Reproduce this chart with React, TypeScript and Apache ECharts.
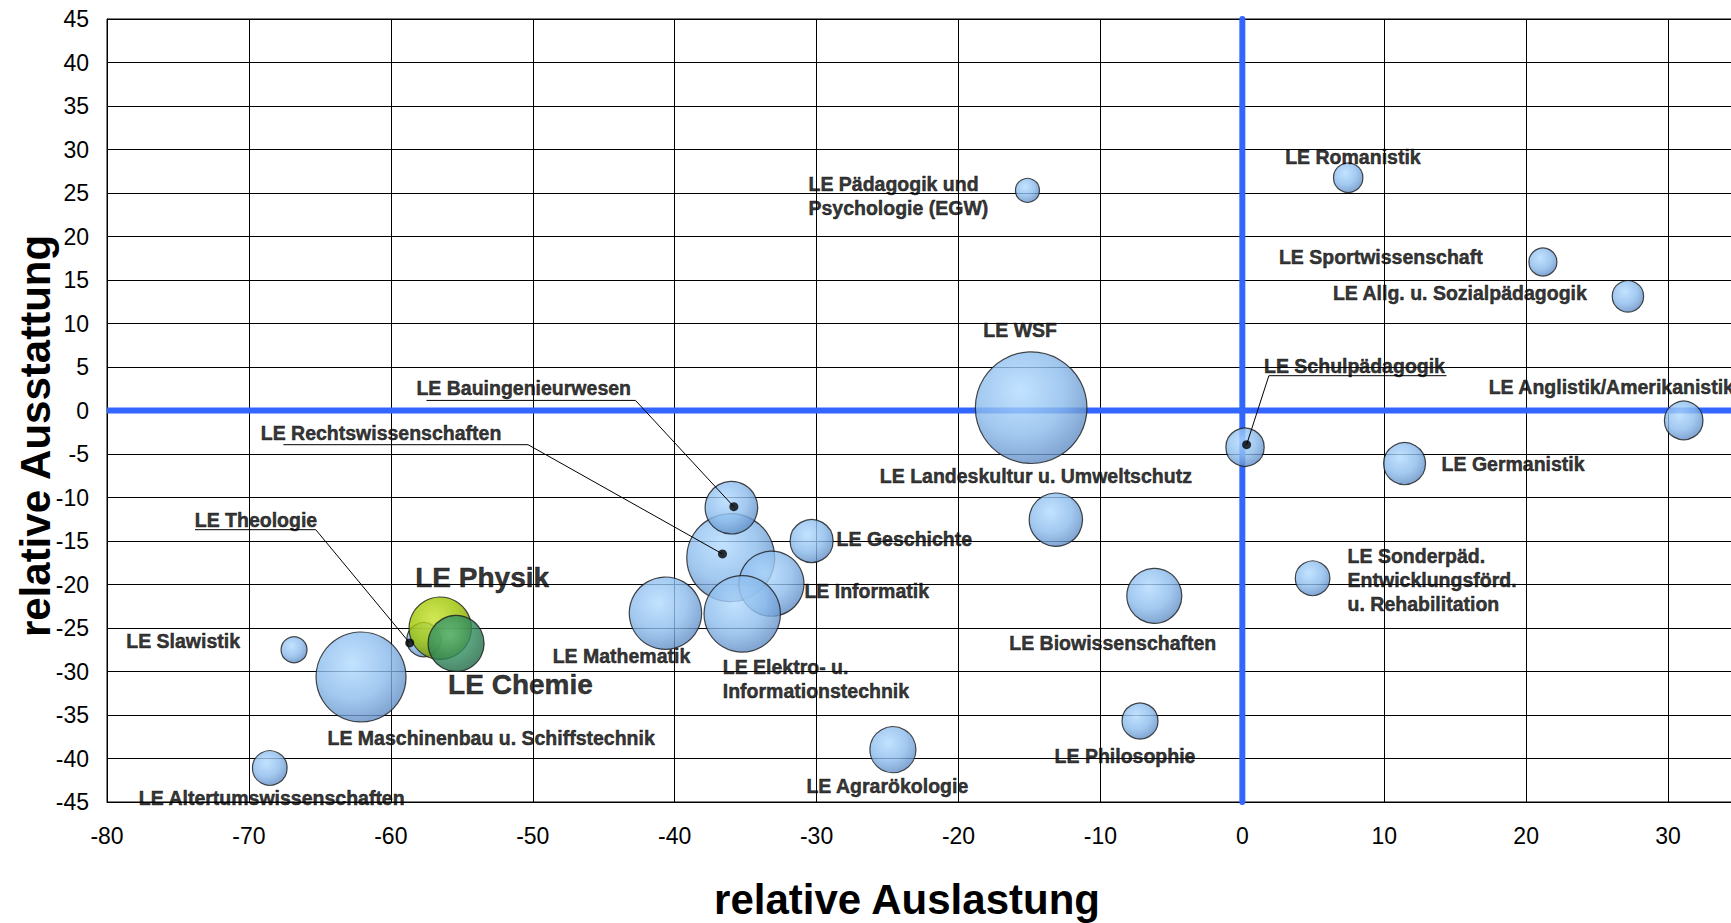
import React, { useEffect, useRef } from "react";
import * as echarts from "echarts";

// ---- data ----
const names = [
  "LE Romanistik",
  "LE Sportwissenschaft",
  "LE Allg. u. Sozialpädagogik",
  "LE Anglistik/Amerikanistik",
  "LE Germanistik",
  "LE Pädagogik und\nPsychologie (EGW)",
  "LE WSF",
  "LE Landeskultur u. Umweltschutz",
  "LE Schulpädagogik",
  "LE Geschichte",
  "LE Rechtswissenschaften",
  "LE Bauingenieurwesen",
  "LE Informatik",
  "LE Elektro- u.\nInformationstechnik",
  "LE Mathematik",
  "LE Biowissenschaften",
  "LE Philosophie",
  "LE Agrarökologie",
  "LE Sonderpäd.\nEntwicklungsförd.\nu. Rehabilitation",
  "LE Theologie",
  "LE Slawistik",
  "LE Maschinenbau u. Schiffstechnik",
  "LE Altertumswissenschaften",
  "LE Physik",
  "LE Chemie",
];
const relAuslastung = [
  7.46, 21.18, 27.17, 31.1, 11.43, -15.14, -14.88, -13.14, 0.19, -30.35, -36.05,
  -36.0, -33.18, -35.24, -40.65, -6.2, -7.21, -24.62, 4.95, -57.68, -66.82, -62.1,
  -68.53, -56.52, -55.4,
];
const relAusstattung = [
  26.76, 17.07, 13.12, -1.14, -6.1, 25.3, 0.32, -12.55, -4.22, -15.0, -16.92,
  -11.17, -19.91, -23.38, -23.3, -21.3, -35.69, -38.99, -19.28, -26.34, -27.49,
  -30.63, -41.09, -25.02, -26.77,
];
const bubbleSize = [
  8.64, 7.84, 9.86, 14.9, 17.6, 5.76, 124.5, 28.5, 14.7, 18.5, 77.4, 27.7, 42.3,
  58.4, 52.4, 30.3, 13.0, 21.2, 12.0, 11.6, 6.76, 81, 12.0, 38.9, 31.4,
];
const highlighted = ["LE Physik", "LE Chemie"];

const xMin = -80, xMax = 40, xStep = 10;
const yMin = -45, yMax = 45, yStep = 5;
const xTitle = "relative Auslastung";
const yTitle = "relative Ausstattung";

// leader lines (label connectors) in data units
const leaderBau = [[-35.83, -11.06], [-42.76, 1.16], [-57.49, 1.16]];
const leaderRecht = [[-36.63, -16.49], [-50.33, -3.93], [-67.57, -3.93]];
const leaderTheo = [[-58.67, -26.72], [-65.29, -13.7], [-73.8, -13.7]];
const leaderSchul = [[0.3, -3.93], [1.87, 4.0], [14.39, 4.0]];

// ---- label layout (styling) : align, dx, dy, fontSize ----
const labelLayout: [string, number, number, number?][] = [
  ["left", -63, -21],
  ["left", -264, -5],
  ["left", -295, -3],
  ["left", -195, -33],
  ["left", 37, 0],
  ["left", -219, 6],
  ["center", -11, -78],
  ["center", -20, -44],
  ["left", 19, -81.5],
  ["left", 25, -2],
  ["left", -470, -125],
  ["left", -315, -120],
  ["left", 33, 7],
  ["left", -19.5, 65],
  ["center", -44, 43],
  ["center", -41.6, 47],
  ["center", -15, 35],
  ["center", -5.6, 36],
  ["left", 35, 1.5],
  ["left", -229, -120],
  ["right", -54, -9],
  ["left", -33.5, 61],
  ["left", -131, 30],
  ["left", -25, -51, 28],
  ["left", -8, 41, 28],
];

const FONT = '"Liberation Sans", Arial, Helvetica, sans-serif';

function grad(c0: string, c1: string, c2: string) {
  return new echarts.graphic.RadialGradient(0.4, 0.35, 0.72, [
    { offset: 0, color: c0 },
    { offset: 0.55, color: c1 },
    { offset: 1, color: c2 },
  ]);
}

export default function App() {
  const ref = useRef<HTMLDivElement>(null);
  useEffect(() => {
    if (!ref.current) return;
    const chart = echarts.init(ref.current, undefined, { renderer: "svg" });

    const blueStyle = { color: grad("#b3dbff", "#8bbbec", "#5985bd"), borderColor: "#1a1a1a", borderWidth: 1.2 };
    const physikStyle = { color: grad("#c6e22a", "#9cc300", "#6f8c00"), borderColor: "#1a1a1a", borderWidth: 1.2 };
    const chemieStyle = { color: grad("#52b083", "#2f8a5c", "#1b6240"), borderColor: "#1a1a1a", borderWidth: 1.2 };

    const makeItem = (i: number) => {
      const [align, dx, dy, fs] = labelLayout[i];
      return {
        name: names[i],
        value: [relAuslastung[i], relAusstattung[i], bubbleSize[i]],
        label: {
          show: true,
          position: "inside",
          align,
          verticalAlign: "middle",
          offset: [dx, dy],
          formatter: names[i],
          fontSize: fs || 19.5,
          lineHeight: fs ? fs * 1.2 : 24,
          fontWeight: "bold",
          fontFamily: FONT,
          color: "#000",
          textBorderWidth: 0.5,
          textBorderColor: "#000",
          textShadowBlur: 0,
        },
      };
    };

    const blueItems = names.map((n, i) => i).filter((i) => !highlighted.includes(names[i])).map(makeItem);
    const physik = [makeItem(names.indexOf("LE Physik"))];
    const chemie = [makeItem(names.indexOf("LE Chemie"))];

    const sizeFn = (v: number[]) => 10 * Math.sqrt(v[2]);

    const leaders = [leaderBau, leaderRecht, leaderTheo, leaderSchul];

    const option: any = {
      animation: false,
      backgroundColor: "#fff",
      grid: {
        left: 107,
        top: 19,
        width: 1703,
        height: 783,
        show: true,
        borderColor: "#000",
        borderWidth: 1,
        containLabel: false,
        outerBoundsMode: "none",
      },
      xAxis: {
        type: "value",
        min: xMin,
        max: xMax,
        interval: xStep,
        axisLine: { onZero: false, lineStyle: { color: "#000", width: 1 } },
        axisTick: { show: false },
        splitLine: { show: true, lineStyle: { color: "#000", width: 1 } },
        axisLabel: { fontSize: 23, color: "#000", fontFamily: FONT, margin: 22, showMaxLabel: false },
      },
      yAxis: {
        type: "value",
        min: yMin,
        max: yMax,
        interval: yStep,
        axisLine: { onZero: false, lineStyle: { color: "#000", width: 1 } },
        axisTick: { show: false },
        splitLine: { show: true, lineStyle: { color: "#000", width: 1 } },
        axisLabel: { fontSize: 23, color: "#000", fontFamily: FONT, margin: 18 },
      },
      graphic: [
        {
          type: "text",
          x: 907,
          y: 899,
          style: { text: xTitle, font: `bold 42px ${FONT}`, fill: "#000", textAlign: "center", textVerticalAlign: "middle" },
        },
        {
          type: "text",
          x: 35,
          y: 436,
          rotation: Math.PI / 2,
          style: { text: yTitle, font: `bold 42px ${FONT}`, fill: "#000", textAlign: "center", textVerticalAlign: "middle" },
        },
      ],
      series: [
        {
          type: "line",
          z: 1,
          silent: true,
          symbol: "none",
          data: [[0, yMin], [0, yMax]],
          lineStyle: { color: "#3366ff", width: 6, cap: "round" },
        },
        {
          type: "line",
          z: 1,
          silent: true,
          symbol: "none",
          data: [[xMin, 0], [xMax, 0]],
          lineStyle: { color: "#3366ff", width: 6 },
        },
        {
          type: "scatter",
          z: 2,
          silent: true,
          data: blueItems,
          symbolSize: sizeFn,
          itemStyle: blueStyle,
        },
        {
          type: "scatter",
          z: 2,
          silent: true,
          data: physik,
          symbolSize: sizeFn,
          itemStyle: physikStyle,
        },
        {
          type: "scatter",
          z: 2,
          silent: true,
          data: chemie,
          symbolSize: sizeFn,
          itemStyle: chemieStyle,
        },
        ...leaders.map((pts) => ({
          type: "line",
          z: 3,
          silent: true,
          symbol: "none",
          data: pts,
          lineStyle: { color: "#000", width: 1 },
        })),
        {
          type: "scatter",
          z: 4,
          silent: true,
          symbolSize: 9,
          data: leaders.map((pts) => pts[0]),
          itemStyle: { color: "#000" },
        },
      ],
    };
    chart.setOption(option);
    return () => chart.dispose();
  }, []);
  return (
    <div
      ref={ref}
      style={{ position: "fixed", left: 0, top: 0, width: 1731, height: 923, background: "#fff" }}
    />
  );
}
